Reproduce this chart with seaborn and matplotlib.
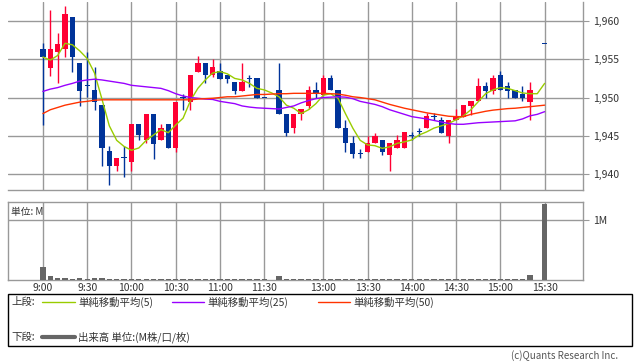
import numpy as np
import pandas as pd
import matplotlib
matplotlib.use("Agg")
import matplotlib.pyplot as plt
from matplotlib.lines import Line2D
from matplotlib.patches import Rectangle
import seaborn as sns

sns.set_style("white")
plt.rcParams['font.family'] = ['Noto Sans CJK JP', 'DejaVu Sans']

# ---- time slots (5-minute bars, blank slot for lunch break) ----
morning = [f"{h}:{m:02d}" for h in range(9, 12) for m in range(0, 60, 5)
           if (h, m) <= (11, 30)]
afternoon = [f"{h}:{m:02d}" for h in range(12, 16) for m in range(0, 60, 5)
             if (12, 30) <= (h, m) <= (15, 30)]
slots = morning + [""] + afternoon
tick_times = ["9:00", "9:30", "10:00", "10:30", "11:00", "11:30",
              "13:00", "13:30", "14:00", "14:30", "15:00", "15:30"]

nan = np.nan
opens = [1956.4, 1953.9, 1955.9, 1956.3, 1960.5, 1954.5, 1951.5, 1951.0, 1949.0, 1943.0,
         1941.0, 1942.1, 1941.5, 1946.5, 1944.4, 1947.9, 1944.4, 1946.5, 1943.45, 1950.1,
         1949.45, 1953.4, 1954.5, 1952.95, 1953.45, 1952.95, 1952.0, 1950.9, 1952.4, 1952.5,
         1950.0, nan, 1951.0, 1947.9, 1945.95, 1947.9, 1948.9, 1951.0, 1950.3, 1952.5,
         1951.0, 1946.0, 1944.0, 1942.55, 1942.9, 1944.0, 1944.5, 1942.5, 1943.4, 1943.4,
         1944.97, 1945.5, 1945.97, 1947.5, 1947.06, 1944.97, 1947.0, 1947.5, 1948.9, 1949.54,
         1951.5, 1950.9, 1952.94, 1951.5, 1950.98, 1950.4, 1949.45, nan, 1957.0]
highs = [1957.1, 1961.4, 1958.4, 1962.0, 1960.5, 1954.5, 1956.0, 1954.0, 1949.0, 1943.6,
         1942.1, 1943.6, 1946.5, 1946.5, 1947.9, 1947.9, 1946.5, 1946.5, 1949.45, 1950.4,
         1952.9, 1955.4, 1954.5, 1955.0, 1954.5, 1952.95, 1952.0, 1954.5, 1952.95, 1952.5,
         1950.0, nan, 1954.5, 1947.9, 1947.9, 1948.5, 1951.5, 1952.0, 1952.95, 1952.95,
         1951.0, 1947.0, 1945.0, 1943.3, 1945.0, 1945.4, 1944.5, 1944.0, 1945.1, 1945.5,
         1945.5, 1946.0, 1948.0, 1948.0, 1947.5, 1947.06, 1948.5, 1949.0, 1949.5, 1952.5,
         1952.0, 1952.94, 1953.5, 1952.0, 1950.98, 1951.5, 1952.0, nan, 1957.0]
lows = [1946.4, 1952.8, 1951.9, 1955.3, 1953.4, 1948.9, 1950.1, 1948.4, 1941.0, 1938.5,
        1940.4, 1939.6, 1940.4, 1944.4, 1944.0, 1942.0, 1944.4, 1943.4, 1942.9, 1948.4,
        1948.4, 1953.4, 1951.9, 1952.7, 1952.4, 1951.9, 1950.4, 1950.9, 1951.4, 1950.0,
        1950.0, nan, 1947.9, 1945.0, 1945.4, 1947.0, 1948.5, 1950.0, 1950.3, 1951.0,
        1946.0, 1942.9, 1942.05, 1942.05, 1942.9, 1944.0, 1942.5, 1940.4, 1943.4, 1943.4,
        1944.4, 1944.97, 1945.97, 1947.0, 1945.4, 1944.0, 1947.0, 1947.5, 1947.7, 1949.54,
        1950.0, 1950.4, 1950.98, 1950.0, 1950.0, 1949.5, 1947.06, nan, 1957.0]
closes = [1955.25, 1956.4, 1957.0, 1960.9, 1955.35, 1950.9, 1951.5, 1949.45, 1943.4, 1941.0,
          1942.1, 1942.1, 1946.5, 1945.05, 1947.9, 1943.9, 1946.05, 1943.45, 1949.45, 1949.9,
          1952.9, 1954.5, 1952.95, 1954.0, 1952.4, 1952.4, 1950.9, 1952.0, 1952.4, 1950.0,
          1950.0, nan, 1947.9, 1945.4, 1947.9, 1948.5, 1951.0, 1950.4, 1952.5, 1951.0,
          1946.0, 1944.0, 1942.55, 1942.55, 1944.0, 1944.97, 1942.9, 1944.0, 1944.4, 1945.5,
          1944.97, 1945.5, 1947.58, 1947.5, 1945.4, 1947.06, 1947.58, 1949.0, 1949.5, 1951.5,
          1950.9, 1952.5, 1950.98, 1950.9, 1950.0, 1950.0, 1950.98, nan, 1957.0]

ma5 = [1955.3, 1954.9, 1955.5, 1957.1, 1956.9, 1956.1, 1955.1, 1953.2, 1949.8, 1946.3,
       1944.4, 1943.6, 1943.1, 1943.4, 1944.4, 1945.1, 1945.8, 1945.4, 1946.4, 1947.3,
       1949.6, 1951.2, 1952.3, 1953.2, 1953.4, 1953.1, 1952.5, 1952.3, 1951.85, 1951.2,
       1951.0, 1950.6, 1950.1, 1949.0, 1948.6, 1947.9, 1948.4, 1949.2, 1950.3, 1950.5,
       1949.9, 1947.9, 1946.0, 1944.4, 1943.8, 1943.7, 1943.35, 1943.55, 1944.0, 1944.2,
       1944.45, 1945.1, 1945.5, 1946.0, 1946.3, 1946.6, 1947.1, 1947.6, 1948.4, 1949.45,
       1950.5, 1951.0, 1951.3, 1951.2, 1950.9, 1950.6, 1950.5, 1950.5, 1951.85]
ma25 = [1950.8, 1951.1, 1951.3, 1951.6, 1951.85, 1952.15, 1952.3, 1952.4, 1952.3, 1952.15,
        1952.0, 1951.85, 1951.6, 1951.5, 1951.4, 1951.3, 1951.2, 1950.9, 1950.5, 1950.2,
        1950.0, 1949.9, 1949.8, 1949.75, 1949.5, 1949.35, 1949.2, 1948.9, 1948.75, 1948.65,
        1948.6, 1948.55, 1948.5, 1948.7, 1948.9, 1949.3, 1949.6, 1949.85, 1950.0, 1950.05,
        1950.1, 1950.05, 1949.85, 1949.5, 1949.3, 1949.1, 1948.8, 1948.4, 1948.1, 1947.8,
        1947.5, 1947.35, 1947.2, 1947.0, 1946.8, 1946.6, 1946.5, 1946.5, 1946.6, 1946.7,
        1946.75, 1946.8, 1946.85, 1946.9, 1946.95, 1947.2, 1947.6, 1947.8, 1948.15]
ma50 = [1947.9, 1948.4, 1948.7, 1949.0, 1949.2, 1949.4, 1949.5, 1949.65, 1949.7, 1949.7,
        1949.7, 1949.7, 1949.7, 1949.7, 1949.7, 1949.7, 1949.7, 1949.7, 1949.7, 1949.7,
        1949.7, 1949.8, 1949.85, 1949.9, 1950.0, 1950.1, 1950.1, 1950.2, 1950.3, 1950.4,
        1950.4, 1950.45, 1950.5, 1950.5, 1950.55, 1950.55, 1950.55, 1950.55, 1950.55, 1950.5,
        1950.45, 1950.3, 1950.1, 1950.0, 1949.85, 1949.7, 1949.4, 1949.1, 1948.85, 1948.6,
        1948.4, 1948.2, 1948.0, 1947.85, 1947.7, 1947.55, 1947.5, 1947.5, 1947.8, 1948.0,
        1948.2, 1948.35, 1948.45, 1948.55, 1948.6, 1948.7, 1948.8, 1948.9, 1949.0]
volume = [0.21, 0.07, 0.04, 0.04, 0.02, 0.03, 0.02, 0.04, 0.04, 0.02,
          0.02, 0.01, 0.01, 0.01, 0.02, 0.02, 0.01, 0.01, 0.01, 0.02,
          0.01, 0.01, 0.01, 0.01, 0.01, 0.01, 0.01, 0.02, 0.01, 0.01,
          0.01, 0.0, 0.06, 0.01, 0.01, 0.02, 0.02, 0.02, 0.02, 0.02,
          0.01, 0.02, 0.02, 0.02, 0.01, 0.02, 0.02, 0.01, 0.02, 0.02,
          0.01, 0.01, 0.02, 0.02, 0.01, 0.02, 0.02, 0.02, 0.02, 0.02,
          0.01, 0.02, 0.02, 0.02, 0.02, 0.02, 0.08, 0.0, 1.26]

price_ticks = [1940, 1945, 1950, 1955, 1960]
price_labels = ["1,940", "1,945", "1,950", "1,955", "1,960"]
legend_labels = ["単純移動平均(5)", "単純移動平均(25)", "単純移動平均(50)"]
vol_label = "出来高 単位:(M株/口/枚)"

C_UP, C_DN = "#FF0033", "#003399"
C_MA5, C_MA25, C_MA50 = "#99CC00", "#9900FF", "#FF3300"
C_GRID = "#999999"
C_VOL = "#666666"

df = pd.DataFrame({"slot": slots, "open": opens, "high": highs, "low": lows,
                   "close": closes, "ma5": ma5, "ma25": ma25, "ma50": ma50,
                   "volume": volume})
df["x"] = np.arange(len(df))
tick_idx = [slots.index(t) for t in tick_times]

W, H = 638, 362
fig = plt.figure(figsize=(W / 100, H / 100), dpi=100)
fig.patch.set_facecolor("white")

def fx(px): return px / W
def fy(py): return 1 - py / H

ax = fig.add_axes([fx(8), fy(190), fx(583) - fx(8), fy(2) - fy(190)])
axv = fig.add_axes([fx(8), fy(280), fx(583) - fx(8), fy(202) - fy(280)])

xlim = (-4.73, 73.2)

# ---- price panel ----
for t in price_ticks:
    ax.axhline(t, color=C_GRID, lw=1, zorder=0)
for i in tick_idx:
    ax.axvline(i, color=C_GRID, lw=1, zorder=0)

valid = df.dropna(subset=["open"])
up = valid["close"] > valid["open"]
colors = np.where(up, C_UP, C_DN)
ax.vlines(valid["x"], valid["low"], valid["high"], colors=colors, lw=1, zorder=3)
body_lo = np.minimum(valid["open"], valid["close"])
body_h = np.maximum(np.abs(valid["close"] - valid["open"]), 0.13)
ax.bar(valid["x"], body_h, bottom=body_lo, width=0.72, color=colors, lw=0, zorder=4)

sns.lineplot(data=df, x="x", y="ma5", ax=ax, color=C_MA5, lw=1, zorder=5)
sns.lineplot(data=df, x="x", y="ma25", ax=ax, color=C_MA25, lw=1, zorder=5)
sns.lineplot(data=df, x="x", y="ma50", ax=ax, color=C_MA50, lw=1, zorder=5)

ax.set_xlim(*xlim)
ax.set_ylim(1937.9, 1962.5)
ax.set_xticks([])
ax.set_yticks(price_ticks)
ax.set_yticklabels(price_labels)
ax.yaxis.tick_right()
ax.tick_params(axis="y", length=4, color=C_GRID, labelsize=7.5, pad=3, labelcolor="#333333")
ax.set_xlabel("")
ax.set_ylabel("")
for s in ["top", "left"]:
    ax.spines[s].set_visible(False)
for s in ["right", "bottom"]:
    ax.spines[s].set_color(C_GRID)
    ax.spines[s].set_linewidth(1)

# ---- volume panel ----
axv.axhline(1.0, color=C_GRID, lw=1, zorder=0)
for i in tick_idx:
    axv.axvline(i, color=C_GRID, lw=1, zorder=0)
axv.bar(df["x"], df["volume"], width=0.72, color=C_VOL, lw=0, zorder=3)
axv.set_xlim(*xlim)
axv.set_ylim(0, 1.3)
axv.set_yticks([1.0])
axv.set_yticklabels(["1M"])
axv.yaxis.tick_right()
axv.tick_params(axis="y", length=4, color=C_GRID, labelsize=7.5, pad=3, labelcolor="#333333")
axv.set_xticks(tick_idx)
axv.set_xticklabels(tick_times)
axv.tick_params(axis="x", length=0, labelsize=7.5, pad=2, labelcolor="#333333")
for s in axv.spines.values():
    s.set_color(C_GRID)
    s.set_linewidth(1)
axv.text(0.006, 0.93, "単位: M", transform=axv.transAxes, fontsize=7, va="top",
         ha="left", color="#333333")

# ---- legend box ----
fig.patches.append(Rectangle((fx(8), fy(346)), fx(632) - fx(8), fy(294) - fy(346),
                             transform=fig.transFigure, fill=False,
                             edgecolor="#000000", lw=1))
r1, r2 = fy(302), fy(337)
fs = 7.5
fig.text(fx(11), r1, "上段:", fontsize=fs, va="center", color="#333333")
segs = [(42, 75, 78, C_MA5), (172, 204, 207, C_MA25), (318, 350, 353, C_MA50)]
for (a, b, t, c), lab in zip(segs, legend_labels):
    fig.lines.append(Line2D([fx(a), fx(b)], [r1, r1], transform=fig.transFigure,
                            color=c, lw=1))
    fig.text(fx(t), r1, lab, fontsize=fs, va="center", color="#333333")
fig.text(fx(11), r2, "下段:", fontsize=fs, va="center", color="#333333")
fig.lines.append(Line2D([fx(42), fx(75)], [r2, r2], transform=fig.transFigure,
                        color=C_VOL, lw=3))
fig.text(fx(78), r2, vol_label, fontsize=fs, va="center", color="#333333")

fig.text(fx(618), fy(356), "(c)Quants Research Inc.", fontsize=7, va="center",
         ha="right", color="#555555")

fig.savefig("out.png", dpi=100, facecolor="white")
